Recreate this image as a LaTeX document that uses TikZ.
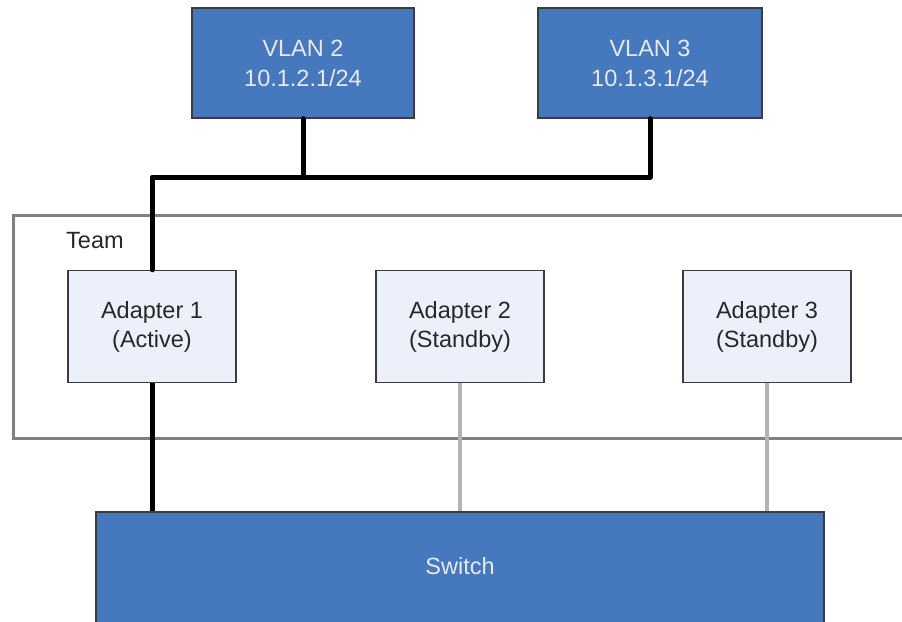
\documentclass[tikz,border=0pt]{standalone}
\usepackage{fontspec}
\setmainfont{Liberation Sans}
\definecolor{boxblue}{RGB}{70,120,190}
\definecolor{boxedge}{RGB}{60,60,60}
\definecolor{adfill}{RGB}{235,240,250}
\definecolor{bluetext}{RGB}{232,232,232}
\definecolor{darktext}{RGB}{40,40,40}
\definecolor{teamedge}{RGB}{128,128,128}
\definecolor{standbyline}{RGB}{180,180,180}
\tikzset{
  bluebox/.style={draw=boxedge, line width=1.2pt, fill=boxblue, text=bluetext,
    align=center, inner sep=0pt, font=\fontsize{23.5}{30}\selectfont},
  adapterbox/.style={draw=boxedge, line width=1.5pt, fill=adfill, text=darktext,
    align=center, inner sep=0pt, minimum width=168pt, minimum height=112pt,
    font=\fontsize{23.5}{29}\selectfont},
  activeline/.style={line width=5pt, black},
  standby/.style={line width=4.5pt, standbyline},
  teamframe/.style={draw=teamedge, line width=3pt},
}
\begin{document}
\begin{tikzpicture}[x=1pt,y=-1pt]
\useasboundingbox (0,0) rectangle (902,621);
\clip (0,0) rectangle (902,621);
\fill[white] (0,0) rectangle (902,621);
% team frame
\draw[teamframe] (13,215) rectangle (920,438);
\node[anchor=west, text=darktext, inner sep=0pt, font=\fontsize{23.5}{29}\selectfont] (teamlbl) at (66,241) {Team};
% VLAN boxes
\node[bluebox, minimum width=222pt, minimum height=110pt] (v2) at (303,63) {VLAN 2\\10.1.2.1/24};
\node[bluebox, minimum width=224pt, minimum height=110pt] (v3) at (650,63) {VLAN 3\\10.1.3.1/24};
% adapters
\node[adapterbox] (a1) at (152,326.5) {Adapter 1\\(Active)};
\node[adapterbox] (a2) at (460,326.5) {Adapter 2\\(Standby)};
\node[adapterbox] (a3) at (767,326.5) {Adapter 3\\(Standby)};
% switch
\node[bluebox, minimum width=728pt, minimum height=120pt] (sw) at (460,572) {\raisebox{12pt}{Switch}};
% connectors
\coordinate (j2) at (303,177);
\coordinate (j1) at (152,177);
\draw[activeline, line cap=round, line join=round] (v3.south) |- (j2) -- (j1) -- (a1.north);
\draw[activeline, line cap=round] (v2.south) -- (j2);
\draw[activeline] (a1.south) -- (a1.south |- sw.north);
\draw[standby] (a2.south) -- (a2.south |- sw.north);
\draw[standby] (a3.south) -- (a3.south |- sw.north);
\end{tikzpicture}
\end{document}
